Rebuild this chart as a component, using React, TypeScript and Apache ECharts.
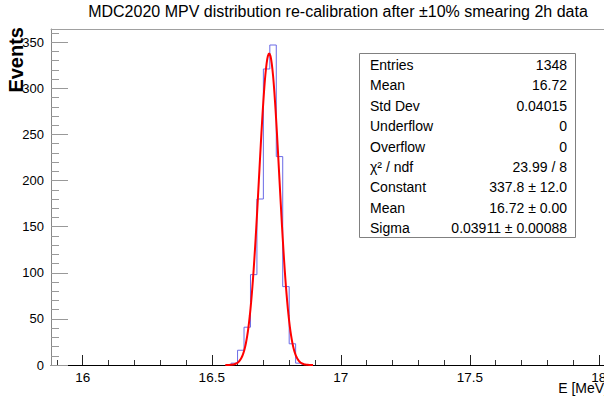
import React, { useEffect, useRef } from "react";
import * as echarts from "echarts";

// Histogram (bin low edges in MeV, width 0.025 MeV) and counts
const binLowEdges = [16.575, 16.6, 16.625, 16.65, 16.675, 16.7, 16.725, 16.75, 16.775, 16.8, 16.825];
const binWidth = 0.025;
const binCounts = [2, 16, 41, 98, 180, 321, 347, 226, 85, 23, 2];

// Gaussian fit curve
const fitX = [
  16.5525, 16.5575, 16.5625, 16.5675, 16.5725, 16.5775, 16.5825, 16.5875, 16.5925, 16.5975,
  16.6025, 16.6075, 16.6125, 16.6175, 16.6225, 16.6275, 16.6325, 16.6375, 16.6425, 16.6475,
  16.6525, 16.6575, 16.6625, 16.6675, 16.6725, 16.6775, 16.6825, 16.6875, 16.6925, 16.6975,
  16.7025, 16.7075, 16.7125, 16.7175, 16.7225, 16.7275, 16.7325, 16.7375, 16.7425, 16.7475,
  16.7525, 16.7575, 16.7625, 16.7675, 16.7725, 16.7775, 16.7825, 16.7875, 16.7925, 16.7975,
  16.8025, 16.8075, 16.8125, 16.8175, 16.8225, 16.8275, 16.8325, 16.8375, 16.8425, 16.8475,
  16.8525, 16.8575, 16.8625, 16.8675, 16.8725, 16.8775, 16.8825, 16.8875, 16.8925,
];
const fitY = [
  0.03, 0.05, 0.08, 0.13, 0.22, 0.35, 0.56, 0.87, 1.35, 2.04,
  3.05, 4.48, 6.47, 9.19, 12.85, 17.7, 23.9, 31.8, 41.7, 53.7,
  68.1, 84.9, 104.1, 125.7, 149.2, 174.3, 200.2, 226.3, 251.7, 275.4,
  296.4, 313.9, 326.9, 335.0, 337.8, 335.0, 326.9, 313.9, 296.4, 275.4,
  251.7, 226.3, 200.2, 174.3, 149.2, 125.7, 104.1, 84.9, 68.1, 53.7,
  41.7, 31.8, 23.9, 17.7, 12.85, 9.19, 6.47, 4.48, 3.05, 2.04,
  1.35, 0.87, 0.56, 0.35, 0.22, 0.13, 0.08, 0.05, 0.03,
];

const xMin = 15.877;
const xMax = 18.02;
const yMin = 0;
const yMax = 364.35;

const xMajorTicks = [16, 16.5, 17, 17.5, 18];
const xMinorTicks = [
  15.9, 16.1, 16.2, 16.3, 16.4, 16.6, 16.7, 16.8, 16.9, 17.1, 17.2, 17.3, 17.4,
  17.6, 17.7, 17.8, 17.9,
];
const yMajorTicks = [0, 50, 100, 150, 200, 250, 300, 350];
const yMinorTicks = [
  10, 20, 30, 40, 60, 70, 80, 90, 110, 120, 130, 140, 160, 170, 180, 190, 210, 220, 230, 240,
  260, 270, 280, 290, 310, 320, 330, 340, 360,
];

const titleText = "MDC2020 MPV distribution re-calibration after \u00b110% smearing 2h data";
const xTitle = "E [MeV]";
const yTitle = "Events";

const statsLabels = [
  "Entries", "Mean", "Std Dev", "Underflow", "Overflow", "\u03c7\u00b2 / ndf", "Constant", "Mean", "Sigma",
];
const statsValues = [
  "1348", "16.72", "0.04015", "0", "0", "23.99 / 8", "337.8 \u00b1 12.0", "16.72 \u00b1 0.00", "0.03911 \u00b1 0.00088",
];

const FONT = "'Liberation Sans', Arial, Helvetica, sans-serif";

export default function App() {
  const ref = useRef<HTMLDivElement>(null);
  useEffect(() => {
    if (!ref.current) return;
    const chart = echarts.init(ref.current, undefined, { renderer: "svg" });

    const histData: number[][] = [[binLowEdges[0], 0]];
    binLowEdges.forEach((lo, i) => histData.push([lo, binCounts[i]]));
    histData.push([binLowEdges[binLowEdges.length - 1] + binWidth, 0]);

    const fitData = fitX.map((x, i) => [x, fitY[i]]);

    const rowTop = 65;
    const rowStep = 20.4;
    const statsGraphics: any[] = [
      {
        type: "rect",
        z: 100,
        shape: { x: 359.5, y: 53.5, width: 216, height: 184 },
        style: { fill: "#fff", stroke: "#808080", lineWidth: 1 },
      },
    ];
    statsLabels.forEach((lab, i) => {
      statsGraphics.push({
        type: "text",
        z: 101,
        x: 370,
        y: rowTop + i * rowStep,
        style: { text: lab, font: `14px ${FONT}`, fill: "#000", align: "left", verticalAlign: "middle" },
      });
      statsGraphics.push({
        type: "text",
        z: 101,
        x: 567,
        y: rowTop + i * rowStep,
        style: { text: statsValues[i], font: `14px ${FONT}`, fill: "#000", align: "right", verticalAlign: "middle" },
      });
    });

    const option: any = {
      animation: false,
      backgroundColor: "#fff",
      textStyle: { fontFamily: FONT },
      grid: {
        left: 51,
        top: 29,
        right: 0,
        bottom: 37,
        show: false,
        containLabel: false,
        outerBoundsMode: "none",
      },
      xAxis: [
        {
          type: "value",
          min: xMin,
          max: xMax,
          position: "bottom",
          axisLine: { show: true, onZero: false, lineStyle: { color: "#000", width: 1 } },
          axisTick: { show: true, inside: true, length: 10, customValues: xMajorTicks, lineStyle: { color: "#222" } },
          axisLabel: {
            show: true,
            customValues: xMajorTicks,
            color: "#000",
            fontSize: 13.5,
            fontFamily: FONT,
            margin: 5,
            formatter: (v: number) => String(v),
          },
          splitLine: { show: false },
        },
        {
          type: "value",
          min: xMin,
          max: xMax,
          position: "bottom",
          axisLine: { show: false, onZero: false },
          axisTick: { show: true, inside: true, length: 5, customValues: xMinorTicks, lineStyle: { color: "#333" } },
          axisLabel: { show: false },
          splitLine: { show: false },
        },
        {
          type: "value",
          min: xMin,
          max: xMax,
          position: "top",
          axisLine: { show: true, onZero: false, lineStyle: { color: "#a0a0a0", width: 1 } },
          axisTick: { show: false },
          axisLabel: { show: false },
          splitLine: { show: false },
        },
      ],
      yAxis: [
        {
          type: "value",
          min: yMin,
          max: yMax,
          position: "left",
          axisLine: { show: true, onZero: false, lineStyle: { color: "#888", width: 1 } },
          axisTick: { show: true, inside: true, length: 17, customValues: yMajorTicks, lineStyle: { color: "#999" } },
          axisLabel: {
            show: true,
            customValues: yMajorTicks,
            color: "#000",
            fontSize: 13,
            fontFamily: FONT,
            margin: 7,
            formatter: (v: number) => String(v),
          },
          splitLine: { show: false },
        },
        {
          type: "value",
          min: yMin,
          max: yMax,
          position: "left",
          axisLine: { show: false, onZero: false },
          axisTick: { show: true, inside: true, length: 8, customValues: yMinorTicks, lineStyle: { color: "#999" } },
          axisLabel: { show: false },
          splitLine: { show: false },
        },
      ],
      series: [
        {
          type: "line",
          name: "hist",
          xAxisIndex: 0,
          yAxisIndex: 0,
          data: histData,
          step: "end",
          showSymbol: false,
          symbol: "none",
          lineStyle: { color: "#6a6ae6", width: 1 },
          z: 2,
        },
        {
          type: "line",
          name: "fit",
          xAxisIndex: 0,
          yAxisIndex: 0,
          data: fitData,
          smooth: 0.3,
          showSymbol: false,
          symbol: "none",
          lineStyle: { color: "#ff0000", width: 2 },
          z: 3,
        },
      ],
      graphic: [
        {
          type: "text",
          z: 100,
          x: 338,
          y: 11,
          style: { text: titleText, font: `16px ${FONT}`, fill: "#000", align: "center", verticalAlign: "middle" },
        },
        {
          type: "text",
          z: 100,
          x: 16,
          y: 27,
          rotation: Math.PI / 2,
          style: { text: yTitle, font: `bold 20px ${FONT}`, fill: "#000", align: "right", verticalAlign: "middle" },
        },
        {
          type: "text",
          z: 100,
          x: 608,
          y: 388,
          style: { text: xTitle, font: `14px ${FONT}`, fill: "#000", align: "right", verticalAlign: "middle" },
        },
        ...statsGraphics,
      ],
    };
    chart.setOption(option);
    return () => chart.dispose();
  }, []);
  return (
    <div
      ref={ref}
      style={{ position: "absolute", left: 0, top: 0, width: 604, height: 402, background: "#fff" }}
    />
  );
}
